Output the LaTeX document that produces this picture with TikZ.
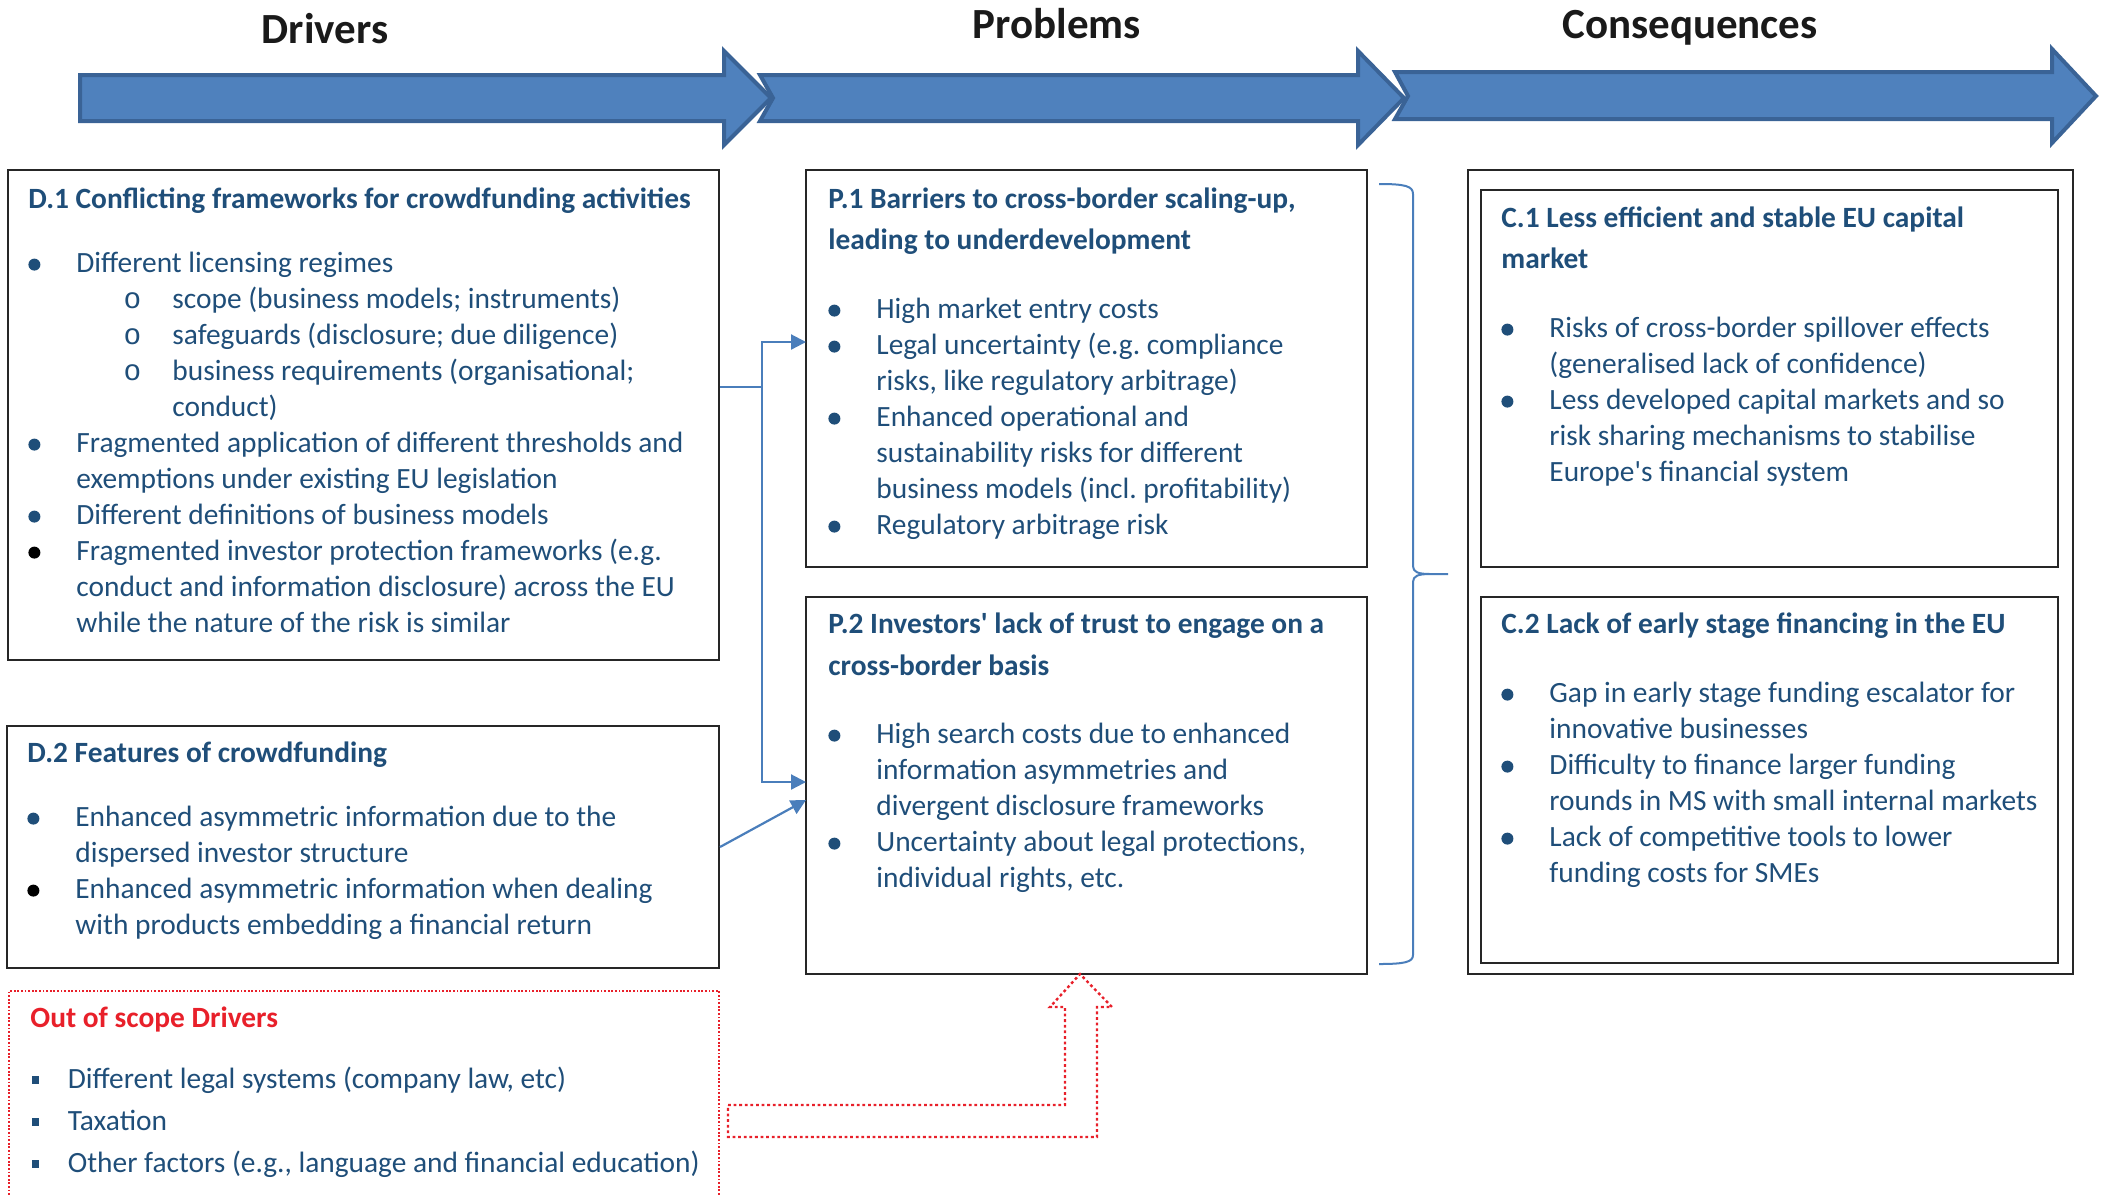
\documentclass[tikz,border=0pt]{standalone}
\usepackage{fontspec}
\setmainfont{Carlito}
\newfontfamily\monof{Liberation Mono}
\usetikzlibrary{arrows.meta,fit,calc}
\definecolor{tc}{HTML}{1F4E79}
\definecolor{afill}{HTML}{4F81BD}
\definecolor{astroke}{HTML}{3A6396}
\definecolor{cblue}{HTML}{4A7EBB}
\definecolor{oos}{HTML}{E8202A}
\definecolor{hdr}{HTML}{1A1A1A}
\newcommand\bodyfont{\fontsize{14.7}{18}\selectfont\lineskiplimit=-50pt\lineskip=0pt\frenchspacing}
\newcommand\bdot[1][tc]{\tikz[baseline=0pt]\fill[#1] (0,3.7pt) circle[radius=3pt];}
\newcommand\ttl[1]{\par\noindent\textbf{#1}}
\newcommand\bl[1]{\par\noindent\makebox[24pt][l]{\bdot}#1}
\newcommand\blk[1]{\par\noindent\makebox[24pt][l]{\bdot[black]}#1}
\newcommand\cl[1]{\par\noindent\hspace*{24pt}#1}
\newcommand\sbl[1]{\par\noindent\hspace*{47.6pt}\makebox[24.4pt][l]{\monof o}#1}
\newcommand\scl[1]{\par\noindent\hspace*{72pt}#1}
\newcommand\sqb[1]{\par\noindent\makebox[18.75pt][l]{\hspace*{0.7pt}\rule[2.2pt]{3.6pt}{3.6pt}}#1}
\newcommand\tb[1]{\parbox[t]{420pt}{\bodyfont #1}}
\tikzset{
  box/.style={draw=black!85, line width=1pt, inner sep=0pt},
  oosbox/.style={draw=oos, line width=0.8pt, dash pattern=on 0.9pt off 0.9pt, inner sep=0pt},
  txt/.style={anchor=base west, inner sep=0pt, text=tc},
  hd/.style={anchor=base, inner sep=0pt, font=\fontsize{21.5}{26}\selectfont\bfseries, text=hdr},
  bigarrow/.style={fill=afill, draw=astroke, line width=2pt, line join=miter},
  conn/.style={draw=cblue, line width=1.1pt},
  tip/.style={-{Triangle[length=7.5pt,width=7.5pt]}},
}
\begin{document}
\begin{tikzpicture}[x=0.5pt,y=-0.5pt]
\useasboundingbox (0,0) rectangle (2103,1196);

% top arrows
\draw[bigarrow] (80,75) -- (724,75) -- (724,51) -- (771,98) -- (724,145) -- (724,121) -- (80,121) -- cycle;
\draw[bigarrow] (760,75) -- (1358,75) -- (1358,51) -- (1404,98) -- (1358,145) -- (1358,121) -- (760,121) -- (773,98) -- cycle;
\draw[bigarrow] (1395,72) -- (2052,72) -- (2052,49) -- (2096,96) -- (2052,143) -- (2052,119) -- (1395,119) -- (1408,96) -- cycle;

\node[hd] (hD) at (325,43) {Drivers};
\node[hd] (hP) at (1057,38) {Problems};
\node[hd] (hC) at (1690,38) {Consequences};

% boxes
\node[box, fit={(8,170) (719,660)}] (D1) {};
\node[box, fit={(7,726) (719,968)}] (D2) {};
\node[oosbox, fit={(9,991) (719,1230)}] (OUT) {};
\node[box, fit={(806,170) (1367,567)}] (P1) {};
\node[box, fit={(806,597) (1367,974)}] (P2) {};
\node[box, fit={(1468,170) (2073,974)}] (C) {};
\node[box, fit={(1481,190) (2058,567)}] (C1) {};
\node[box, fit={(1481,597) (2058,963)}] (C2) {};

% texts
\node[txt] (D1t) at (28,208) {\tb{%
\ttl{D.1 Conflicting frameworks for crowdfunding activities}
\par\vspace{14pt}
\bl{Different licensing regimes}
\sbl{scope (business models; instruments)}
\sbl{safeguards (disclosure; due diligence)}
\sbl{business requirements (organisational;}
\scl{conduct)}
\bl{Fragmented application of different thresholds and}
\cl{exemptions under existing EU legislation}
\bl{Different definitions of business models}
\blk{Fragmented investor protection frameworks (e.g.}
\cl{conduct and information disclosure) across the EU}
\cl{while the nature of the risk is similar}}};

\node[txt] (D2t) at (27,762) {\tb{%
\ttl{D.2 Features of crowdfunding}
\par\vspace{14pt}
\bl{Enhanced asymmetric information due to the}
\cl{dispersed investor structure}
\blk{Enhanced asymmetric information when dealing}
\cl{with products embedding a financial return}}};

\node[txt] (OUTt) at (30,1027) {\tb{%
\ttl{\color{oos}Out of scope Drivers}
\par\baselineskip=21pt\vspace{9.5pt}
\sqb{Different legal systems (company law, etc)}
\sqb{Taxation}
\sqb{Other factors (e.g., language and financial education)}}};

\node[txt] (P1t) at (828,208) {\tb{%
\baselineskip=20.5pt
\ttl{P.1 Barriers to cross-border scaling-up,}
\ttl{leading to underdevelopment}
\par\baselineskip=18pt\vspace{16.5pt}
\bl{High market entry costs}
\bl{Legal uncertainty (e.g. compliance}
\cl{risks, like regulatory arbitrage)}
\bl{Enhanced operational and}
\cl{sustainability risks for different}
\cl{business models (incl. profitability)}
\bl{Regulatory arbitrage risk}}};

\node[txt] (P2t) at (828,633) {\tb{%
\baselineskip=21pt
\ttl{P.2 Investors\textquotesingle\ lack of trust to engage on a}
\ttl{cross-border basis}
\par\baselineskip=18pt\vspace{16pt}
\bl{High search costs due to enhanced}
\cl{information asymmetries and}
\cl{divergent disclosure frameworks}
\bl{Uncertainty about legal protections,}
\cl{individual rights, etc.}}};

\node[txt] (C1t) at (1501,227) {\tb{%
\baselineskip=20.5pt
\ttl{C.1 Less efficient and stable EU capital}
\ttl{market}
\par\baselineskip=18pt\vspace{16.5pt}
\bl{Risks of cross-border spillover effects}
\cl{(generalised lack of confidence)}
\bl{Less developed capital markets and so}
\cl{risk sharing mechanisms to stabilise}
\cl{Europe\textquotesingle s financial system}}};

\node[txt] (C2t) at (1501,633) {\tb{%
\ttl{C.2 Lack of early stage financing in the EU}
\par\vspace{16.5pt}
\bl{Gap in early stage funding escalator for}
\cl{innovative businesses}
\bl{Difficulty to finance larger funding}
\cl{rounds in MS with small internal markets}
\bl{Lack of competitive tools to lower}
\cl{funding costs for SMEs}}};

% connectors
\coordinate (j) at (762,387);
\coordinate (a1) at (806,342);
\coordinate (a2) at (806,782);
\coordinate (a3) at (806,800);
\draw[conn] (D1.east |- j) -- (j);
\draw[conn, tip] (j) |- (a1);
\draw[conn, tip] (j) |- (a2);
\draw[conn, tip] (D2.east) -- (a3);

% brace
\draw[cblue, line width=1pt] (1379,184) .. controls (1405,184) and (1413,186) .. (1413,194)
  -- (1413,566) .. controls (1413,572) and (1418,574) .. (1430,574) -- (1448,574)
  (1430,574) .. controls (1418,574) and (1413,576) .. (1413,582)
  -- (1413,955) .. controls (1413,962) and (1405,964) .. (1379,964);

% out of scope arrow
\draw[oos, line width=1.2pt, dash pattern=on 1.4pt off 1.4pt, line join=miter]
  (728,1105) -- (1065,1105) -- (1065,1007) -- (1050,1007) -- (1080,974) -- (1112,1007)
  -- (1097,1007) -- (1097,1137) -- (728,1137) -- cycle;
\end{tikzpicture}
\end{document}
